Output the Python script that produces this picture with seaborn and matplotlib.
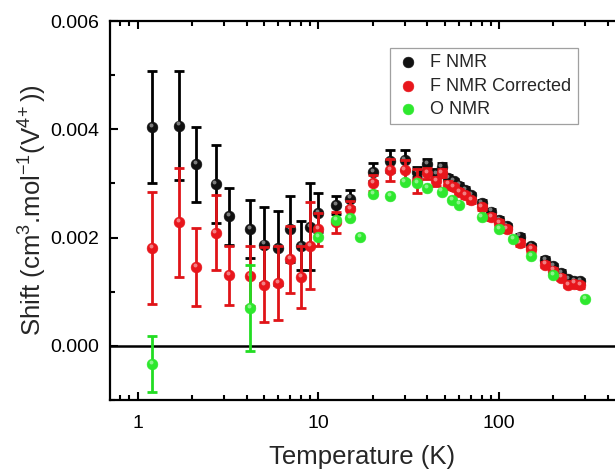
import numpy as np
import pandas as pd
import matplotlib
matplotlib.use("Agg")
import matplotlib.pyplot as plt
import matplotlib.ticker as mticker
import seaborn as sns

# F NMR (black) and F NMR Corrected (red) share the same temperatures
temp_f = [1.2, 1.7, 2.1, 2.7, 3.2, 4.2, 5, 6, 7, 8, 9, 10, 12.5, 15, 20, 25, 30,
          35, 40, 45, 48, 52, 56, 60, 65, 70, 80, 90, 100, 110, 130, 150, 180,
          200, 220, 240, 260, 280]
shift_f = [0.00404, 0.00407, 0.00335, 0.00299, 0.00239, 0.00216, 0.00187, 0.00181,
           0.00216, 0.00185, 0.00220, 0.00246, 0.00260, 0.00272, 0.00321, 0.00342,
           0.00343, 0.00321, 0.00335, 0.00318, 0.00330, 0.00310, 0.00304, 0.00296,
           0.00288, 0.00278, 0.00264, 0.00248, 0.00233, 0.00221, 0.00202, 0.00184,
           0.00159, 0.00147, 0.00135, 0.00123, 0.00120, 0.00119]
err_f = [0.00103, 0.00101, 0.00070, 0.00072, 0.00053, 0.00054, 0.00070, 0.00068,
         0.00061, 0.00045, 0.00080, 0.00036, 0.00016, 0.00015, 0.00017, 0.00020,
         0.00018, 0.00010, 0.00010, 0.00008, 0.00008, 0.00006, 0.00005, 0.00005,
         0.00005, 0.00005, 0.00005, 0.00005, 0.00005, 0.00005, 0.00005, 0.00005,
         0.00005, 0.00005, 0.00005, 0.00005, 0.00005, 0.00005]
shift_fc = [0.00181, 0.00228, 0.00146, 0.00209, 0.00130, 0.00129, 0.00113, 0.00116,
            0.00160, 0.00127, 0.00185, 0.00215, 0.00228, 0.00252, 0.00301, 0.00325,
            0.00325, 0.00304, 0.00319, 0.00304, 0.00319, 0.00298, 0.00293, 0.00284,
            0.00278, 0.00269, 0.00256, 0.00238, 0.00227, 0.00215, 0.00190, 0.00178,
            0.00150, 0.00139, 0.00126, 0.00113, 0.00115, 0.00112]
err_fc = [0.00104, 0.00100, 0.00072, 0.00069, 0.00055, 0.00055, 0.00069, 0.00069,
          0.00062, 0.00057, 0.00080, 0.00030, 0.00020, 0.00015, 0.00015, 0.00020,
          0.00018, 0.00022, 0.00010, 0.00008, 0.00008, 0.00006, 0.00005, 0.00005,
          0.00005, 0.00005, 0.00005, 0.00005, 0.00005, 0.00005, 0.00005, 0.00005,
          0.00005, 0.00005, 0.00005, 0.00005, 0.00005, 0.00005]

# O NMR (green)
temp_o = [1.2, 4.2, 10, 12.5, 15, 17, 20, 25, 30, 35, 40, 48, 55, 60, 80, 100,
          120, 150, 200, 300]
shift_o = [-0.00034, 0.00070, 0.00201, 0.00233, 0.00236, 0.00201, 0.00281, 0.00276,
           0.00302, 0.00301, 0.00292, 0.00285, 0.00270, 0.00261, 0.00238, 0.00215,
           0.00198, 0.00166, 0.00130, 0.00086]
err_o = [0.00052, 0.00080, 0, 0, 0, 0, 0, 0, 0, 0, 0, 0, 0, 0, 0, 0, 0, 0, 0, 0]

labels = ["F NMR", "F NMR Corrected", "O NMR"]
colors = {"F NMR": "#111111", "F NMR Corrected": "#e8161c", "O NMR": "#2ee82e"}
bar_colors = {"F NMR": "#000000", "F NMR Corrected": "#e01418", "O NMR": "#22dd22"}

df = pd.concat([
    pd.DataFrame({"T": temp_f, "shift": shift_f, "err": err_f, "series": labels[0]}),
    pd.DataFrame({"T": temp_f, "shift": shift_fc, "err": err_fc, "series": labels[1]}),
    pd.DataFrame({"T": temp_o, "shift": shift_o, "err": err_o, "series": labels[2]}),
], ignore_index=True)

sns.set_style("ticks")
plt.rcParams["font.family"] = ["Liberation Sans", "DejaVu Sans"]
plt.rcParams["mathtext.default"] = "regular"

fig = plt.figure(figsize=(6.15, 4.72), dpi=100)
ax = fig.add_axes([0.179, 0.1525, 0.821, 0.803])

ax.axhline(0, color="black", lw=1.8, zorder=1)

# error bars first, then markers on top; series order gives the stacking
for i, name in enumerate(labels):
    sub = df[df["series"] == name]
    sub = sub[sub["err"] > 0]
    ax.errorbar(sub["T"], sub["shift"], yerr=sub["err"], fmt="none",
                ecolor=bar_colors[name], elinewidth=2.0, capsize=3.5,
                capthick=2.0, zorder=2 + 2 * i)

for i, name in enumerate(labels):
    sns.scatterplot(data=df[df["series"] == name], x="T", y="shift",
                    color=colors[name], s=60, edgecolor=colors[name],
                    linewidth=0.4, label=name, ax=ax, zorder=3 + 2 * i)
    # small highlight for the glossy-ball look
    sub = df[df["series"] == name]
    ax.scatter(sub["T"] * 0.985, sub["shift"] + 0.00004, s=8, color="white",
               alpha=0.45, linewidths=0, zorder=3 + 2 * i)

ax.set_xscale("log")
ax.set_xlim(0.703, 438)
ax.set_ylim(-0.001, 0.006)

ax.xaxis.set_major_locator(mticker.FixedLocator([1, 10, 100]))
ax.xaxis.set_major_formatter(mticker.FixedFormatter(["1", "10", "100"]))
ax.xaxis.set_minor_locator(mticker.LogLocator(base=10, subs=np.arange(2, 10)))
ax.xaxis.set_minor_formatter(mticker.NullFormatter())
ax.yaxis.set_major_locator(mticker.MultipleLocator(0.002))
ax.yaxis.set_minor_locator(mticker.MultipleLocator(0.001))
ax.yaxis.set_major_formatter(mticker.FormatStrFormatter("%.3f"))

ax.tick_params(which="both", direction="in", top=True, right=False,
               width=1.5, labelsize=14, colors="black")
ax.tick_params(which="major", length=6, pad=8)
ax.tick_params(axis="x", which="major", pad=11)
ax.tick_params(which="minor", length=3.5)

for side in ["left", "top", "bottom"]:
    ax.spines[side].set_linewidth(1.6)
    ax.spines[side].set_color("black")
ax.spines["right"].set_visible(False)

ax.set_xlabel("Temperature (K)", fontsize=18.5, labelpad=9)
ax.set_ylabel(r"Shift (cm$^3$.mol$^{-1}$(V$^{4\!+}$))", fontsize=18.5, labelpad=1)

leg = ax.legend(loc="upper left", bbox_to_anchor=(0.554, 0.929), fontsize=13,
                frameon=True, fancybox=False, edgecolor="#888888",
                handletextpad=0.6, borderpad=0.35, labelspacing=0.35,
                handlelength=1.3, markerscale=1.0, borderaxespad=0)
leg.get_frame().set_linewidth(0.9)

fig.savefig("out.png", dpi=100)
